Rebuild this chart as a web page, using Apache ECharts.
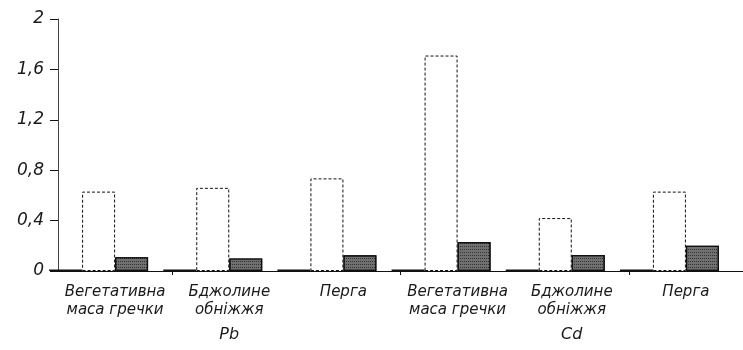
<!DOCTYPE html>
<html>
<head>
<meta charset="utf-8">
<script src="https://cdn.jsdelivr.net/npm/echarts@6/dist/echarts.min.js"></script>
<style>html,body{margin:0;padding:0;background:#fff;}#c{width:743px;height:350px;}</style>
</head>
<body>
<div id="c"></div>
<script>
const categories = ['Вегетативна\nмаса гречки', 'Бджолине\nобніжжя', 'Перга', 'Вегетативна\nмаса гречки', 'Бджолине\nобніжжя', 'Перга'];
const groups = ['Pb', 'Cd'];
const seriesBlack = [0.012, 0.012, 0.012, 0.012, 0.012, 0.012];
const seriesWhite = [0.63, 0.66, 0.735, 1.71, 0.42, 0.63];
const seriesGray = [0.11, 0.10, 0.125, 0.23, 0.127, 0.20];
const seriesSpacer = [null, null, null, null, null, null];
const yTicks = { min: 0, max: 2, interval: 0.4 };

const FONT = 'DejaVu Sans';
const chart = echarts.init(document.getElementById('c'), null, { renderer: 'canvas' });
chart.setOption({
  animation: false,
  backgroundColor: '#fff',
  grid: { left: 58, top: 19, width: 694, height: 252, containLabel: false },
  xAxis: [{
    type: 'category',
    data: categories,
    position: 'bottom',
    axisLine: { show: true, lineStyle: { color: '#111', width: 1 } },
    axisTick: { show: true, length: 4, interval: function (i) { return i % 2 === 1; }, lineStyle: { color: '#111' } },
    axisLabel: {
      interval: 0, margin: 12, color: '#1a1a1a', fontFamily: FONT, fontStyle: 'italic',
      fontSize: 15, lineHeight: 18
    },
    splitLine: { show: false }
  }, {
    type: 'category',
    data: groups,
    position: 'bottom',
    axisLine: { show: false },
    axisTick: { show: false },
    axisLabel: { interval: 0, margin: 56, color: '#1a1a1a', fontFamily: FONT, fontStyle: 'italic', fontSize: 16 },
    splitLine: { show: false }
  }],
  yAxis: {
    type: 'value',
    min: yTicks.min, max: yTicks.max, interval: yTicks.interval,
    axisLine: { show: true, lineStyle: { color: '#444', width: 1 } },
    axisTick: { show: true, length: 8, lineStyle: { color: '#111' } },
    axisLabel: {
      margin: 14, color: '#1a1a1a', fontFamily: FONT, fontStyle: 'italic', fontSize: 17,
      formatter: function (v) { return String(+v.toFixed(1)).replace('.', ','); }
    },
    splitLine: { show: false }
  },
  series: [{
    type: 'bar', name: 'black', data: seriesBlack, barWidth: 33, barGap: '0%', clip: false,
    itemStyle: { color: '#111' }
  }, {
    type: 'bar', name: 'white', data: seriesWhite, barWidth: 33, barGap: '0%',
    itemStyle: { color: '#fff', borderColor: '#111', borderWidth: 1, borderType: [3, 2] }
  }, {
    type: 'bar', name: 'gray', data: seriesGray, barWidth: 33, barGap: '0%',
    itemStyle: {
      color: '#707070', borderColor: '#111', borderWidth: 1.2,
      decal: { symbol: 'rect', symbolSize: 1, color: 'rgba(10,10,10,0.6)', dashArrayX: [1, 1], dashArrayY: [1, 2], rotation: 0 }
    }
  }, {
    type: 'bar', name: 'spacer', data: seriesSpacer, barWidth: 33, barGap: '0%',
    itemStyle: { color: 'transparent' }
  }]
});
</script>
</body>
</html>
